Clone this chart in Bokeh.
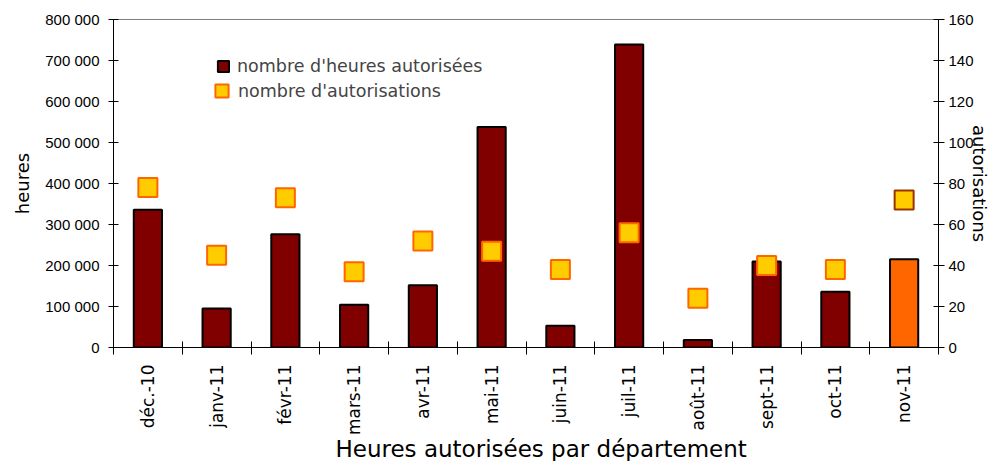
import math
from bokeh.plotting import figure
from bokeh.models import (Range1d, LinearAxis, FixedTicker, Legend, LegendItem,
                          ColumnDataSource, Title)
from bokeh.embed import file_html
from bokeh.resources import INLINE

# ---- data ----
months = ["déc.-10", "janv-11", "févr-11", "mars-11", "avr-11", "mai-11",
          "juin-11", "juil-11", "août-11", "sept-11", "oct-11", "nov-11"]
heures = [336000, 95000, 276000, 104000, 152000, 538000,
          53000, 739000, 18000, 210000, 136000, 215000]
autorisations = [78, 45, 73, 37, 52, 47, 38, 56, 24, 40, 38, 72]
bar_colors = ["#800000"] * 11 + ["#FF6600"]
marker_line_colors = ["#FF6600"] * 11 + ["#993300"]
left_ticks = [0, 100000, 200000, 300000, 400000, 500000, 600000, 700000, 800000]
left_tick_labels = ["0", "100 000", "200 000", "300 000", "400 000", "500 000",
                    "600 000", "700 000", "800 000"]
right_ticks = [0, 20, 40, 60, 80, 100, 120, 140, 160]
right_tick_labels = ["0", "20", "40", "60", "80", "100", "120", "140", "160"]

n = len(months)
xs = list(range(n))
boundaries = [i - 0.5 for i in range(n + 1)]

src = ColumnDataSource(dict(x=xs, heures=heures, aut=autorisations,
                            bar_color=bar_colors, mline=marker_line_colors))

TICK_FONT = "Liberation Sans"
TEXT_FONT = "DejaVu Sans"

p = figure(width=994, height=461, output_backend="svg", toolbar_location=None,
           x_range=Range1d(-0.5, n - 0.5), y_range=Range1d(0, 800000),
           min_border_left=113, min_border_right=56, min_border_top=19,
           min_border_bottom=113)
p.extra_y_ranges = {"right": Range1d(0, 160)}
p.xgrid.visible = False
p.ygrid.visible = False
p.outline_line_color = "#808080"
p.outline_line_width = 1
p.background_fill_color = "white"
p.border_fill_color = "white"

bars = p.vbar(x="x", top="heures", bottom=0, width=0.41, fill_color="bar_color",
              line_color="black", line_width=2, source=src)
marks = p.scatter(x="x", y="aut", y_range_name="right", marker="square", size=19,
                  fill_color="#FFCC00", line_color="mline", line_width=2, source=src)

# x axis
xa = p.xaxis[0]
xa.ticker = FixedTicker(ticks=xs, minor_ticks=boundaries)
xa.major_label_overrides = {i: m for i, m in zip(xs, months)}
xa.major_label_orientation = math.pi / 2
xa.major_tick_line_color = None
xa.major_tick_in = 0
xa.major_tick_out = 0
xa.minor_tick_line_color = "black"
xa.minor_tick_in = 6
xa.minor_tick_out = 7
xa.major_label_standoff = 10
xa.major_label_text_font = TEXT_FONT
xa.major_label_text_font_size = "17px"
xa.major_label_text_color = "black"
xa.axis_line_color = "black"

# x title (below the axis), placed like the reference
xtitle = Title(text="Heures autorisées par département", align="left", offset=222,
               vertical_align="top", standoff=-5, text_font=TEXT_FONT,
               text_font_size="23px", text_font_style="normal", text_color="black")
p.add_layout(xtitle, "below")

# left axis
ya = p.yaxis[0]
ya.ticker = FixedTicker(ticks=left_ticks)
ya.major_label_overrides = {t: l for t, l in zip(left_ticks, left_tick_labels)}
ya.major_tick_in = 5
ya.major_tick_out = 5
ya.major_tick_line_color = "black"
ya.minor_tick_line_color = None
ya.axis_line_color = "black"
ya.major_label_standoff = 9
ya.major_label_text_font = TICK_FONT
ya.major_label_text_font_size = "15px"
ya.major_label_text_color = "black"
ya.axis_label = "heures"
ya.axis_label_text_font = TEXT_FONT
ya.axis_label_text_font_size = "18px"
ya.axis_label_text_font_style = "normal"
ya.axis_label_text_color = "black"
ya.axis_label_standoff = 9

# right axis
ra = LinearAxis(y_range_name="right", ticker=FixedTicker(ticks=right_ticks))
ra.major_label_overrides = {t: l for t, l in zip(right_ticks, right_tick_labels)}
ra.major_tick_in = 5
ra.major_tick_out = 6
ra.major_tick_line_color = "black"
ra.minor_tick_line_color = None
ra.axis_line_color = "black"
ra.major_label_standoff = 4
ra.major_label_text_font = TICK_FONT
ra.major_label_text_font_size = "15px"
ra.major_label_text_color = "black"
ra.axis_label = "autorisations"
ra.axis_label_text_font = TEXT_FONT
ra.axis_label_text_font_size = "18px"
ra.axis_label_text_font_style = "normal"
ra.axis_label_text_color = "black"
ra.axis_label_standoff = -8
if "axis_label_orientation" in ra.properties():
    ra.axis_label_orientation = "vertical"
p.add_layout(ra, "right")

# legends
leg1 = Legend(items=[LegendItem(label="nombre d'heures autorisées", renderers=[bars], index=0)],
              location=(103, 271), glyph_width=14, glyph_height=14, label_standoff=7,
              padding=0, margin=0, border_line_color=None, background_fill_alpha=0,
              label_text_font=TEXT_FONT, label_text_font_size="17.5px")
leg2 = Legend(items=[LegendItem(label="nombre d'autorisations", renderers=[marks], index=0)],
              location=(92, 240), glyph_width=33, glyph_height=33, label_standoff=0,
              padding=0, margin=0, border_line_color=None, background_fill_alpha=0,
              label_text_font=TEXT_FONT, label_text_font_size="17.5px")
p.add_layout(leg1)
p.add_layout(leg2)

open("out.html", "w").write(file_html(p, INLINE))
